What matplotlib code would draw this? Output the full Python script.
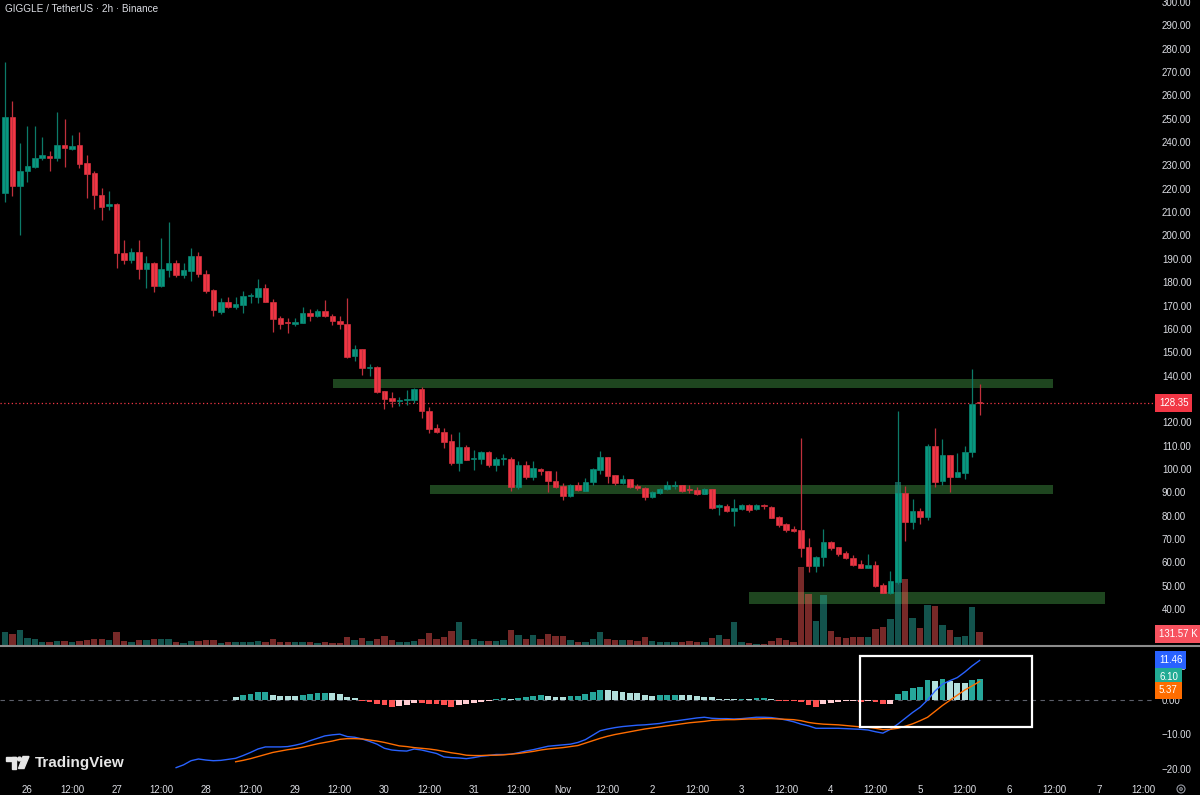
import matplotlib
matplotlib.use("Agg")
import matplotlib.pyplot as plt
import matplotlib.transforms as mtransforms
from matplotlib import font_manager
from matplotlib.patches import Rectangle, Polygon, Circle
from matplotlib.lines import Line2D
import numpy as np
import pandas as pd

_avail = {f.name for f in font_manager.fontManager.ttflist}
if 'Liberation Sans Narrow' in _avail:
    UI_FONT = ['Liberation Sans Narrow', 'DejaVu Sans']
    FS, TITLE_FS = 8.0, 8.6
else:
    UI_FONT = ['Liberation Sans', 'DejaVu Sans']
    FS, TITLE_FS = 7.0, 7.2
plt.rcParams['font.family'] = UI_FONT

# ---------------- data (2h candles, first bar = 2025-10-25 18:00) ----------------
first_bar = pd.Timestamp("2025-10-25 18:00")

opens = [218.2, 250.9, 221.0, 227.5, 229.3, 233.0, 234.0, 233.0, 238.6, 237.0,
         238.6, 230.9, 226.8, 217.4, 212.5, 213.4, 192.6, 189.3, 193.1, 185.6,
         188.4, 178.3, 185.3, 188.3, 183.0, 184.7, 191.3, 183.6, 176.7, 167.3,
         171.3, 169.2, 170.4, 174.0, 173.6, 177.3, 171.7, 164.5, 163.0, 161.9,
         162.5, 166.9, 165.3, 167.8, 165.7, 163.5, 162.2, 148.2, 151.2, 143.3,
         143.5, 133.2, 130.4, 129.3, 129.5, 129.4, 134.4, 125.0, 117.4, 116.0,
         111.9, 102.6, 109.5, 104.3, 104.2, 107.3, 101.6, 104.2, 104.2, 92.4,
         101.6, 96.4, 100.0, 98.9, 94.7, 92.5, 88.5, 93.0, 90.7, 94.3,
         99.4, 104.9, 97.3, 93.9, 95.5, 92.5, 92.0, 87.9, 89.6, 91.3,
         92.6, 93.0, 91.2, 91.0, 89.4, 91.3, 83.5, 84.2, 81.8, 82.9,
         84.6, 82.7, 84.3, 83.9, 79.4, 76.3, 74.2, 73.8, 66.4, 58.3,
         62.4, 68.6, 66.4, 63.9, 62.0, 59.3, 57.7, 58.7, 50.2, 47.0,
         51.7, 89.5, 77.4, 81.9, 79.3, 109.7, 94.9, 105.8, 96.6, 98.3,
         107.3, 128.5]
highs = [274.4, 257.7, 239.6, 246.7, 247.0, 242.3, 236.3, 252.7, 249.9, 243.2,
         244.2, 234.6, 227.5, 220.4, 219.2, 213.8, 198.2, 194.5, 198.2, 191.3,
         188.7, 198.8, 205.9, 189.7, 188.3, 194.8, 193.0, 185.3, 177.0, 173.3,
         173.6, 173.6, 176.4, 175.4, 181.4, 179.0, 172.9, 165.6, 164.5, 164.5,
         169.2, 168.3, 168.3, 172.2, 166.5, 165.3, 173.4, 153.2, 151.5, 145.1,
         144.3, 133.5, 133.0, 130.7, 134.0, 134.7, 135.1, 126.6, 119.4, 117.7,
         114.8, 115.7, 110.4, 107.9, 107.6, 107.6, 105.2, 106.5, 104.9, 103.3,
         103.6, 103.2, 100.2, 99.0, 99.0, 93.8, 93.5, 94.2, 95.9, 100.2,
         107.6, 105.2, 97.5, 97.3, 95.8, 93.5, 92.1, 90.5, 91.9, 94.7,
         94.7, 93.3, 93.0, 92.1, 92.0, 91.6, 85.1, 84.9, 87.3, 84.9,
         84.9, 84.9, 85.1, 84.2, 79.8, 77.0, 75.4, 113.4, 70.3, 62.7,
         74.2, 69.1, 66.7, 64.7, 63.3, 60.9, 63.4, 60.4, 51.0, 56.2,
         124.7, 92.6, 87.3, 83.1, 110.6, 117.4, 112.7, 106.0, 106.9, 109.7,
         143.0, 136.2]
lows = [214.2, 217.1, 200.0, 222.8, 229.0, 232.2, 227.5, 231.9, 229.5, 236.7,
        228.7, 216.2, 211.4, 206.8, 210.7, 186.0, 187.6, 188.3, 181.3, 177.7,
        175.7, 177.8, 182.1, 182.0, 181.7, 180.7, 182.4, 175.3, 165.7, 166.3,
        169.0, 168.3, 167.0, 171.0, 171.0, 171.3, 158.6, 160.0, 158.2, 161.2,
        162.3, 163.3, 165.0, 164.9, 161.5, 160.0, 147.6, 146.2, 140.1, 139.7,
        132.4, 125.5, 126.4, 126.8, 127.2, 128.4, 121.9, 115.4, 115.3, 109.0,
        101.6, 99.0, 103.7, 99.4, 101.9, 100.9, 99.2, 101.6, 90.7, 91.6,
        95.6, 95.1, 97.3, 90.2, 91.9, 86.5, 87.9, 90.6, 90.4, 93.0,
        97.7, 94.1, 93.0, 93.7, 91.7, 90.9, 86.6, 87.6, 89.4, 91.1,
        91.5, 90.2, 89.5, 88.8, 89.2, 82.8, 80.2, 81.4, 75.7, 82.5,
        81.5, 82.4, 82.8, 78.9, 75.0, 72.8, 73.0, 62.4, 55.9, 55.9,
        58.5, 65.3, 62.9, 61.3, 58.4, 57.6, 57.5, 49.6, 46.8, 46.5,
        50.9, 69.3, 74.2, 76.5, 78.1, 92.4, 93.0, 90.2, 96.4, 95.8,
        105.2, 122.9]
closes = [250.9, 221.0, 227.8, 229.6, 233.3, 234.3, 233.0, 238.6, 237.3, 238.3,
          230.8, 226.2, 217.2, 212.1, 213.4, 192.3, 189.3, 193.1, 185.6, 188.4,
          178.3, 185.6, 188.3, 183.0, 185.0, 191.3, 183.6, 176.4, 167.9, 171.3,
          169.3, 170.7, 174.0, 174.3, 177.3, 171.7, 164.2, 162.2, 162.6, 163.1,
          166.8, 165.5, 167.8, 165.3, 163.2, 161.9, 148.1, 151.2, 143.4, 143.5,
          132.8, 130.1, 128.9, 129.7, 129.9, 134.4, 124.9, 117.3, 115.8, 111.6,
          102.6, 109.5, 103.9, 104.7, 107.3, 101.6, 104.2, 104.4, 92.4, 101.6,
          96.4, 100.2, 98.9, 94.7, 92.4, 88.5, 93.0, 90.8, 94.5, 99.9,
          104.9, 96.9, 93.8, 95.5, 92.4, 91.7, 87.9, 90.0, 91.5, 93.1,
          93.0, 90.7, 90.8, 89.4, 91.3, 83.4, 84.5, 81.8, 83.4, 84.6,
          82.5, 84.4, 84.0, 79.1, 76.1, 73.8, 73.6, 66.3, 58.3, 62.2,
          68.6, 66.3, 63.7, 61.7, 59.0, 57.7, 58.8, 50.0, 47.0, 52.1,
          89.7, 77.4, 81.9, 79.6, 109.7, 94.6, 105.9, 96.6, 98.6, 107.4,
          128.0, 128.35]
volumes_k = [135, 111, 149, 71, 58, 33, 27, 44, 40, 27,
             40, 48, 58, 58, 48, 129, 37, 30, 48, 54,
             58, 64, 64, 30, 23, 40, 40, 48, 48, 23,
             33, 27, 33, 30, 40, 33, 64, 33, 33, 27,
             27, 27, 17, 27, 20, 17, 81, 51, 74, 40,
             64, 91, 48, 30, 33, 40, 64, 118, 61, 78,
             142, 236, 48, 64, 40, 40, 40, 50, 149, 103,
             61, 103, 61, 110, 92, 92, 50, 32, 32, 61,
             135, 61, 50, 50, 50, 43, 85, 43, 28, 28,
             32, 35, 39, 35, 28, 68, 103, 61, 228, 33,
             20, 13, 13, 44, 74, 54, 33, 789, 516, 246,
             509, 145, 78, 68, 84, 78, 78, 165, 185, 266,
             1646, 671, 273, 172, 405, 398, 202, 155, 84, 94,
             388, 131.57]

# MACD (12, 26, 9) values
macd_first_bar = 23
macd_line = [-19.6, -18.8, -17.6, -17.1, -17.4, -17.6, -17.5, -17.2, -16.9, -16.1,
             -15.2, -14.2, -13.6, -13.6, -13.6, -13.5, -13.1, -12.6, -11.8, -11.1,
             -10.4, -10.1, -9.9, -10.6, -10.8, -11.3, -12.0, -12.8, -14.0, -14.5,
             -14.7, -14.8, -14.2, -14.5, -15.0, -15.5, -16.5, -16.7, -16.8, -17.0,
             -16.7, -16.3, -16.1, -15.8, -15.8, -15.7, -15.3, -14.8, -14.4, -13.9,
             -13.4, -13.2, -13.0, -12.8, -12.3, -11.5, -10.2, -8.9, -8.4, -8.0,
             -7.7, -7.5, -7.3, -7.2, -7.0, -6.8, -6.4, -6.1, -5.8, -5.5,
             -5.2, -5.0, -5.3, -5.4, -5.4, -5.5, -5.4, -5.2, -5.0, -5.0,
             -5.1, -5.4, -5.8, -6.3, -7.0, -7.5, -8.2, -8.2, -8.2, -8.2,
             -8.3, -8.4, -8.5, -8.7, -9.2, -9.6, -8.5, -7.0, -5.3, -3.6,
             -2.1, 0.0, 2.6, 4.6, 5.6, 6.5, 8.1, 9.9, 11.46]
signal_first_bar = 31
signal_line = [-17.9, -17.5, -17.0, -16.4, -15.8, -15.2, -14.8, -14.4, -14.1, -13.7,
               -13.2, -12.7, -12.3, -11.9, -11.4, -11.2, -11.2, -11.3, -11.6, -11.9,
               -12.3, -12.8, -13.3, -13.5, -13.8, -14.0, -14.2, -14.5, -14.9, -15.3,
               -15.6, -16.0, -16.1, -16.1, -16.0, -16.0, -15.9, -15.7, -15.5, -15.2,
               -14.9, -14.5, -14.2, -14.0, -13.8, -13.5, -13.2, -12.5, -11.8, -11.1,
               -10.5, -10.0, -9.6, -9.2, -8.8, -8.4, -8.1, -7.8, -7.5, -7.2,
               -6.9, -6.6, -6.4, -6.2, -5.9, -5.8, -5.7, -5.7, -5.6, -5.5,
               -5.5, -5.4, -5.4, -5.5, -5.6, -5.7, -6.0, -6.5, -6.8, -7.0,
               -7.1, -7.2, -7.4, -7.6, -7.8, -7.9, -8.2, -8.6, -8.5, -8.2,
               -7.6, -6.9, -6.0, -5.0, -3.3, -1.6, -0.1, 1.4, 2.9, 4.1, 5.37]
hist_first_bar = 31
hist_values = [0.97, 1.35, 1.8, 2.3, 2.35, 1.5, 1.26, 1.16, 1.1, 1.5,
               1.7, 2.0, 2.05, 2.0, 1.7, 1.0, 0.5, -0.2, -0.5, -1.2,
               -1.5, -1.9, -1.85, -1.4, -0.8, -1.0, -1.2, -1.25, -1.35, -1.9,
               -1.35, -1.2, -1.0, -0.5, -0.2, 0.3, 0.5, 0.3, 0.7, 0.75,
               1.2, 1.35, 1.2, 1.0, 0.9, 1.2, 1.25, 1.6, 2.3, 3.0,
               2.9, 2.7, 2.3, 2.1, 1.9, 1.45, 1.2, 1.4, 1.45, 1.5,
               1.45, 1.35, 1.2, 1.0, 0.77, 0.4, 0.3, 0.2, 0.3, 0.2,
               0.5, 0.55, 0.3, -0.2, -0.25, -0.3, -0.7, -1.5, -1.9, -1.26,
               -0.87, -0.5, -0.2, -0.15, -0.5, -0.2, -0.5, -1.16, -1.06, 1.64,
               2.7, 3.6, 3.8, 5.7, 5.6, 6.1, 5.5, 5.0, 4.9, 5.8, 6.10]

# drawn support / resistance zones (price band, bar span)
zone_low = [134.7, 89.4, 42.1]
zone_high = [138.5, 93.3, 47.3]
zone_from_bar = [44.1, 57.1, 100.0]
zone_to_bar = [140.9, 140.9, 147.8]

# highlight box on the MACD pane (bar span, value span)
box_bars = (114.9, 138.1)
box_values = (-7.9, 12.85)

price_ticks = list(range(40, 301, 10))
macd_ticks = [-20, -10, 0, 10]

# ---------------- styling ----------------
UP, DOWN = '#089981', '#f23645'
UP_WICK, DOWN_WICK = '#0c7a68', '#c0303c'
VOL_UP, VOL_DOWN = '#26a69a', '#ef5350'
TXT = '#dcdee4'
BG = 'black'

W, H = 1200, 795
fig = plt.figure(figsize=(W / 100, H / 100), dpi=100, facecolor=BG)


def frac(x0, y0, x1, y1):
    return [x0 / W, 1 - y1 / H, (x1 - x0) / W, (y1 - y0) / H]


PLOT_R = 1155
main_box = frac(0, 0, PLOT_R, 645)
macd_box = frac(0, 648, PLOT_R, 778)

ax = fig.add_axes(main_box)
ax_v = fig.add_axes(main_box, sharex=ax)
ax_c = fig.add_axes(main_box, sharex=ax, sharey=ax)
ax_m = fig.add_axes(macd_box, sharex=ax)
ax.set_zorder(0)
ax_v.set_zorder(1)
ax_c.set_zorder(2)
ax.set_facecolor(BG)
ax_m.set_facecolor(BG)
ax_v.patch.set_alpha(0)
ax_c.patch.set_alpha(0)

n = len(closes)
x = np.arange(n)
o = np.array(opens); h = np.array(highs); l = np.array(lows); c = np.array(closes)
up = c >= o

# x scale: bar 0 at pixel 5, 7.44 px per bar
BAR_PX = 7.44
X0_PX = 5
ax.set_xlim((0 - X0_PX) / BAR_PX, (PLOT_R - X0_PX) / BAR_PX)
ax.set_ylim(24.58, 300.86)

# zones
for lo, hi, b0, b1 in zip(zone_low, zone_high, zone_from_bar, zone_to_bar):
    ax.add_patch(Rectangle((b0, lo), b1 - b0, hi - lo, facecolor='#4caf50',
                           alpha=0.4, edgecolor='none', zorder=1))

# last price line
ax.axhline(closes[-1], color=DOWN, lw=0.9, ls=(0, (1, 2)), zorder=2)

# volume
VOL_TOP = 645 / 13 * volumes_k[-1]
ax_v.set_ylim(0, VOL_TOP)
ax_v.bar(x, volumes_k, width=0.86, color=[VOL_UP if u else VOL_DOWN for u in up],
         alpha=0.5, linewidth=0)
ax_v.set_axis_off()

# candles
ax_c.vlines(x, l, h, colors=[UP_WICK if u else DOWN_WICK for u in up], linewidth=0.9)
body_lo = np.minimum(o, c)
body_h = np.maximum(np.abs(c - o), 0.35)
cols = [UP if u else DOWN for u in up]
ax_c.bar(x, body_h, bottom=body_lo, width=0.74, color=cols, edgecolor=cols, linewidth=0.4)
ax_c.set_axis_off()

# main price axis
for s in ax.spines.values():
    s.set_visible(False)
ax.tick_params(axis='x', bottom=False, labelbottom=False)
ax.yaxis.tick_right()
ax.set_yticks(price_ticks)
ax.set_yticklabels([f'{t:.2f}' for t in price_ticks])
ax.tick_params(axis='y', length=0, pad=5, labelsize=FS, labelcolor=TXT)

box_kw = dict(boxstyle='square,pad=0.4', ec='none')
tr_price = mtransforms.blended_transform_factory(ax.transAxes, ax.transData)
ax.text(1.0 + 4 / PLOT_R, closes[-1], f'{closes[-1]:.2f}', transform=tr_price,
        fontsize=FS, color='white', va='center', ha='left', zorder=6,
        bbox=dict(fc=DOWN, **box_kw))
tr_vol = mtransforms.blended_transform_factory(ax_v.transAxes, ax_v.transData)
ax_v.text(1.0 + 4 / PLOT_R, volumes_k[-1] - 20, f'{volumes_k[-1]:.2f} K', transform=tr_vol,
          fontsize=FS, color='white', va='center', ha='left', zorder=6,
          bbox=dict(fc='#f7525f', **box_kw))

# MACD pane
ax_m.set_ylim((700 - 778) / 3.45, (700 - 648) / 3.45)
ax_m.axhline(0, color='#5d606b', lw=0.8, ls=(0, (4, 4)), zorder=1)
hx = np.arange(hist_first_bar, hist_first_bar + len(hist_values))
hcols = []
prev = None
for v in hist_values:
    if prev is None:
        colr = '#b2dfdb' if v >= 0 else '#ffcdd2'
    elif v >= 0:
        colr = '#26a69a' if v >= prev else '#b2dfdb'
    else:
        colr = '#ffcdd2' if v > prev else '#ff5252'
    hcols.append(colr)
    prev = v
ax_m.bar(hx, hist_values, width=0.78, color=hcols, linewidth=0, zorder=2)
mx = np.arange(macd_first_bar, macd_first_bar + len(macd_line))
sx = np.arange(signal_first_bar, signal_first_bar + len(signal_line))
ax_m.plot(mx, macd_line, color='#2962ff', lw=1.0, zorder=3)
ax_m.plot(sx, signal_line, color='#ff6d00', lw=1.0, zorder=3)
ax_m.add_patch(Rectangle((box_bars[0], box_values[0]), box_bars[1] - box_bars[0],
                         box_values[1] - box_values[0], fill=False, edgecolor='white',
                         linewidth=1.6, zorder=4))
for s in ax_m.spines.values():
    s.set_visible(False)
ax_m.yaxis.tick_right()
ax_m.set_yticks(macd_ticks)
ax_m.set_yticklabels([f'{t:.2f}'.replace('-', '\u2212') for t in macd_ticks])
ax_m.tick_params(axis='y', length=0, pad=5, labelsize=FS, labelcolor=TXT)

tr_m = mtransforms.blended_transform_factory(ax_m.transAxes, ax_m.transData)
for val, off, colr in [(macd_line[-1], 0.2, '#2962ff'), (hist_values[-1], 0.5, '#22ab94'),
                       (signal_line[-1], -2.6, '#ff6d00')]:
    ax_m.text(1.0 + 4 / PLOT_R, val + off, f'{val:.2f}', transform=tr_m, fontsize=FS,
              color='white', va='center', ha='left', zorder=6,
              bbox=dict(fc=colr, **box_kw))

# time axis
tick_times = pd.date_range('2025-10-26 00:00', '2025-11-07 12:00', freq='12h')
tick_pos = [(t - first_bar) / pd.Timedelta(hours=2) for t in tick_times]
tick_lab = []
for t in tick_times:
    if t.hour == 12:
        tick_lab.append('12:00')
    elif t.day == 1:
        tick_lab.append(t.strftime('%b'))
    else:
        tick_lab.append(str(t.day))
ax_m.set_xticks(tick_pos)
ax_m.set_xticklabels(tick_lab)
ax_m.tick_params(axis='x', length=0, pad=5, labelsize=FS, labelcolor=TXT)

# separator between panes
fig.add_artist(Line2D([0, 1], [1 - 646 / H] * 2, transform=fig.transFigure,
                      color='#8c8c8c', lw=1.5))

# title & branding
fig.text(5 / W, 1 - 9 / H, 'GIGGLE / TetherUS \u00b7 2h \u00b7 Binance', fontsize=TITLE_FS,
         color=TXT, va='center', ha='left')
fig.text(35 / W, 1 - 763 / H, 'TradingView', fontsize=11, fontweight='bold',
         color='#e6e6e6', va='center', ha='left', family=['Liberation Sans', 'DejaVu Sans'])
ov = fig.add_axes([0, 0, 1, 1], zorder=10)
ov.set_xlim(0, W)
ov.set_ylim(H, 0)
ov.set_axis_off()
ov.patch.set_alpha(0)
logo = '#e6e6e6'
ov.add_patch(Rectangle((6, 756.5), 10, 4, color=logo))
ov.add_patch(Rectangle((12, 756.5), 4, 12, color=logo))
ov.add_patch(Circle((19.5, 759), 1.9, color=logo))
ov.add_patch(Polygon([(23, 756.5), (29, 756.5), (24, 768.5), (18.5, 768.5)], color=logo))
ov.add_patch(Circle((1181, 789), 4, fill=False, ec='#9598a1', lw=0.8))
ov.add_patch(Circle((1181, 789), 1.3, fill=False, ec='#9598a1', lw=0.8))

fig.savefig('out.png', dpi=100, facecolor=BG)
